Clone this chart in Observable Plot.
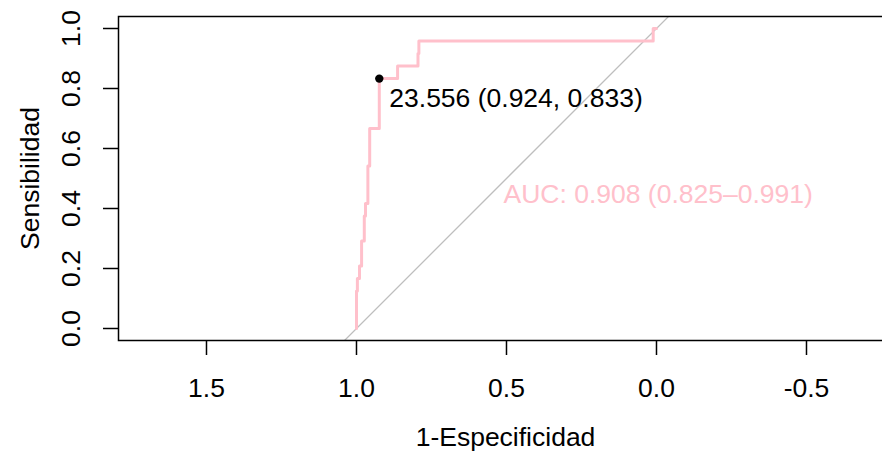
<!DOCTYPE html>
<html><head><meta charset="utf-8">
<script src="https://cdn.jsdelivr.net/npm/d3@7"></script>
<script src="https://cdn.jsdelivr.net/npm/@observablehq/plot@0.6"></script>
<style>
html,body{margin:0;padding:0;overflow:hidden;background:#fff;}
svg{max-width:none !important;}
</style></head><body><div id="chart"></div>
<script>
// ROC curve vertices (specificity, sensitivity)
const specificity = [1.000,1.000,0.997,0.997,0.990,0.990,0.983,0.983,0.974,0.974,0.970,0.970,0.962,0.962,0.956,0.956,0.924,0.924,0.863,0.863,0.795,0.795,0.792,0.792,0.011,0.011,0.000];
const sensitivity = [0.000,0.125,0.125,0.167,0.167,0.208,0.208,0.292,0.292,0.375,0.375,0.417,0.417,0.542,0.542,0.667,0.667,0.833,0.833,0.875,0.875,0.917,0.917,0.958,0.958,1.000,1.000];
const bestThreshold = [{threshold: "23.556", specificity: 0.924, sensitivity: 0.833}];
const aucText = ["AUC: 0.908 (0.825–0.991)"];
const xTicks = [1.5, 1.0, 0.5, 0.0, -0.5];
const xTickLabels = ["1.5", "1.0", "0.5", "0.0", "-0.5"];
const yTicks = [0.0, 0.2, 0.4, 0.6, 0.8, 1.0];
const yTickLabels = ["0.0", "0.2", "0.4", "0.6", "0.8", "1.0"];
const xTitle = ["1-Especificidad"];
const yTitle = ["Sensibilidad"];

const xDomain = [1.7933, -0.7867];
const yDomain = [-0.04, 1.04];
const curve = specificity.map((s, i) => ({spec: s, sens: sensitivity[i]}));
const diagonal = xDomain.map(x => ({x, y: 1 - x}));
const font = "'Liberation Sans', Arial, sans-serif";
const fs = 26.5;

const chart = Plot.plot({
  width: 892, height: 455,
  marginLeft: 118, marginRight: 0, marginTop: 16, marginBottom: 115,
  style: {fontFamily: font, fontSize: fs + "px", color: "black", background: "white", maxWidth: "none"},
  x: {domain: xDomain, label: null},
  y: {domain: yDomain, label: null},
  marks: [
    Plot.line(diagonal, {x: "x", y: "y", stroke: "#BEBEBE", strokeWidth: 1.3, clip: true}),
    Plot.line(curve, {x: "spec", y: "sens", stroke: "pink", strokeWidth: 3}),
    Plot.dot(bestThreshold, {x: "specificity", y: "sensitivity", r: 4.2, fill: "black"}),
    Plot.text(bestThreshold, {x: "specificity", y: "sensitivity",
      text: d => `${d.threshold} (${d.specificity}, ${d.sensitivity})`,
      textAnchor: "start", lineAnchor: "middle", dx: 10, dy: 20, fill: "black", fontSize: fs}),
    Plot.text(aucText, {x: () => 0.5, y: () => 0.4, text: d => d,
      textAnchor: "start", lineAnchor: "bottom", dx: -3, dy: -6, fill: "pink", fontSize: fs}),
    Plot.axisX(xTicks, {tickSize: 15, tickPadding: 23, tickFormat: (d, i) => xTickLabels[i], stroke: "black", strokeWidth: 1.5, fontSize: fs, label: null}),
    Plot.axisY(yTicks, {tickSize: 15, tickFormat: () => "", stroke: "black", strokeWidth: 1.5, label: null}),
    Plot.text(yTicks, {y: d => d, frameAnchor: "left", dx: -47, rotate: -90, text: (d, i) => yTickLabels[i], textAnchor: "middle", lineAnchor: "middle", fill: "black", fontSize: fs}),
    Plot.text(xTitle, {frameAnchor: "bottom", dy: 97, text: d => d, textAnchor: "middle", lineAnchor: "middle", fill: "black", fontSize: fs}),
    Plot.text(yTitle, {frameAnchor: "left", dx: -88, rotate: -90, text: d => d, textAnchor: "middle", lineAnchor: "middle", fill: "black", fontSize: fs}),
    Plot.frame({stroke: "black", strokeWidth: 1.5})
  ]
});
document.getElementById("chart").appendChild(chart);
</script></body></html>
